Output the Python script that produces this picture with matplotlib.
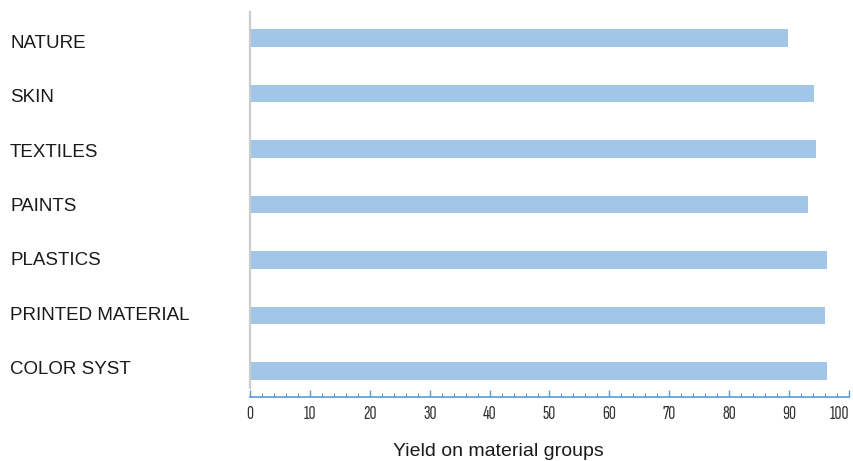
import matplotlib.pyplot as plt
import numpy as np

categories = ['NATURE', 'SKIN', 'TEXTILES', 'PAINTS', 'PLASTICS', 'PRINTED MATERIAL', 'COLOR SYST']
values = [89.8, 94.2, 94.5, 93.1, 96.3, 96.0, 96.3]
xticks = list(range(0, 101, 10))

fig = plt.figure(figsize=(8.54, 4.61), dpi=100)
ax = fig.add_axes([250 / 854, 64 / 461, 599 / 854, 385 / 461])

y = np.arange(len(categories))
ax.barh(y, values, height=0.32, color='#a2c6e7')

ax.set_xlim(0, 100)
ax.set_ylim(6.47, -0.47)

# category names start at the left edge of the figure, spaced a bit tighter than the bars
ax.set_yticks([])
for yi, name in zip(y, categories):
    ax.text(-240 / 5.99, 0.1 + yi * 0.979, name, ha='left', va='center', fontsize=13.5,
            family='Liberation Sans', color='#1a1a1a', clip_on=False)

ax.set_xticks(xticks)
ax.set_xticks(np.arange(0, 101, 2), minor=True)
labels = ax.set_xticklabels([str(t) for t in xticks],
                            family=['Sofia Sans Extra Condensed', 'DejaVu Sans'],
                            fontsize=14, color='#333333')
labels[-1].set_ha('right')
ax.tick_params(axis='x', which='major', direction='in', length=5, width=1, color='#5b9bd5', pad=6)
ax.tick_params(axis='x', which='minor', direction='in', length=3, width=0.8, color='#5b9bd5')

for side in ['top', 'right']:
    ax.spines[side].set_visible(False)
ax.spines['bottom'].set_color('#5b9bd5')
ax.spines['bottom'].set_linewidth(1.2)
ax.spines['left'].set_color('#cccccc')
ax.spines['left'].set_linewidth(1.6)
ax.spines['left'].set_bounds(6.3, -0.47)

fig.text(498 / 854, 1 - 451 / 461, 'Yield on material groups', ha='center', va='center',
         fontsize=14, family='Liberation Sans', color='#1a1a1a')

fig.savefig('out.png', dpi=100)
